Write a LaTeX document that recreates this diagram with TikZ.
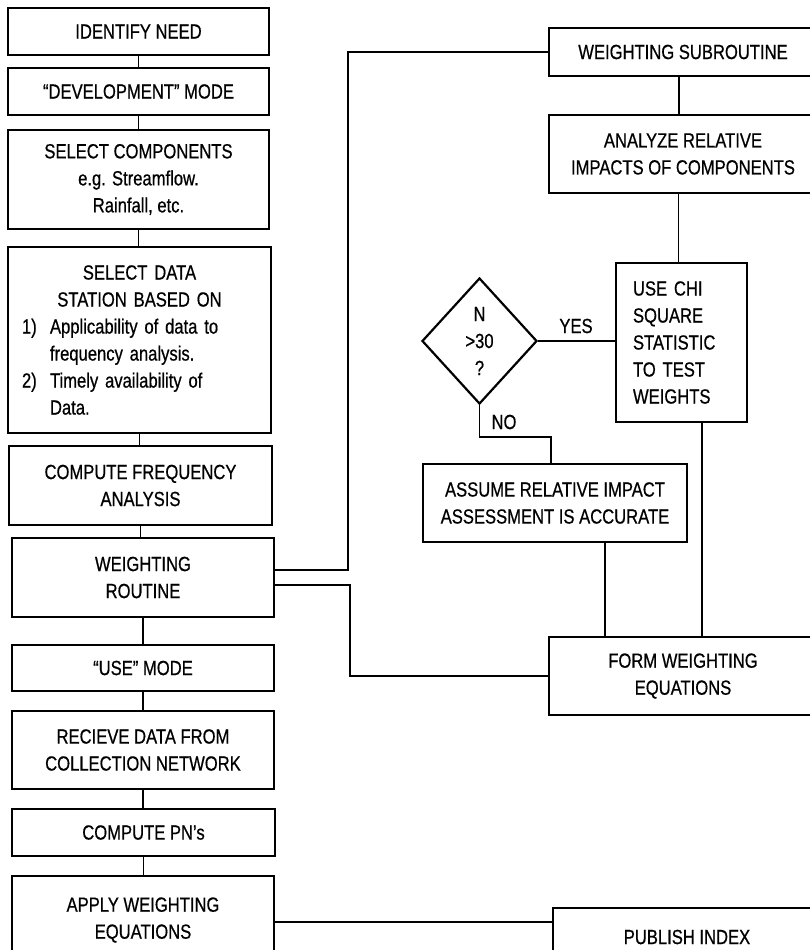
\documentclass[tikz,border=0pt]{standalone}
\usepackage{fontspec}
\setmainfont{Liberation Sans}[FakeStretch=0.81, FakeBold=0.6]
\usetikzlibrary{shapes.geometric}
\tikzset{
  box/.style={draw, line width=2.2pt, inner sep=0pt, align=center,
    font=\fontsize{20.5}{27}\selectfont},
  wire/.style={line width=1.2pt},
  lbl/.style={inner sep=0pt, font=\fontsize{20.5}{27}\selectfont},
}
\begin{document}
\begin{tikzpicture}[x=1pt, y=-1pt]
\clip (0,0) rectangle (810,950);
\fill[white] (0,0) rectangle (810,950);
% left column
\node[box, minimum width=261pt, minimum height=47pt] (need) at (138.5,31.5) {IDENTIFY NEED};
\node[box, minimum width=261pt, minimum height=47pt] (dev) at (138.5,91.5) {“DEVELOPMENT” MODE};
\node[box, minimum width=261pt, minimum height=99pt] (comp) at (138.5,179.5) {SELECT COMPONENTS\\e.g. Streamflow.\\Rainfall, etc.};
\node[box, minimum width=263pt, minimum height=186pt, text width=235pt, align=left] (data) at (139.5,340) {%
{\centering SELECT DATA\\STATION BASED ON\par}%
\noindent\makebox[28pt][l]{1)}Applicability of data to\\
\hspace*{28pt}frequency analysis.\\
\makebox[28pt][l]{2)}Timely availability of\\
\hspace*{28pt}Data.};
\node[box, minimum width=263pt, minimum height=79pt] (freq) at (140.5,485.5) {COMPUTE FREQUENCY\\ANALYSIS};
\node[box, minimum width=262pt, minimum height=79pt] (routine) at (143,577.5) {WEIGHTING\\ROUTINE};
\node[box, minimum width=262pt, minimum height=46pt] (use) at (143,668) {“USE” MODE};
\node[box, minimum width=262pt, minimum height=78pt] (recv) at (143,750) {RECIEVE DATA FROM\\COLLECTION NETWORK};
\node[box, minimum width=263pt, minimum height=47pt] (pns) at (143.5,832.5) {COMPUTE PN’s};
\node[box, minimum width=262pt, minimum height=88pt] (apply) at (143,920) {APPLY WEIGHTING\\EQUATIONS};
% right column
\node[box, minimum width=268pt, minimum height=48pt] (sub) at (683,52) {WEIGHTING SUBROUTINE};
\node[box, minimum width=268pt, minimum height=78pt] (analyze) at (683,154) {ANALYZE RELATIVE\\IMPACTS OF COMPONENTS};
\node[box, minimum width=131pt, minimum height=159pt, text width=97pt, align=left] (chi) at (681.5,342.5) {USE CHI\\SQUARE\\STATISTIC\\TO TEST\\WEIGHTS};
\node[box, diamond, minimum width=115pt, minimum height=126pt] (dia) at (479.5,341) {N\\>30\\?};
\node[box, minimum width=264pt, minimum height=78pt] (assume) at (555,503) {ASSUME RELATIVE IMPACT\\ASSESSMENT IS ACCURATE};
\node[box, minimum width=268pt, minimum height=78pt] (form) at (683,676) {FORM WEIGHTING\\EQUATIONS};
\node[box, minimum width=268pt, minimum height=58pt] (publish) at (687,937) {PUBLISH INDEX};
% labels
\node[lbl] (yes) at (576,326) {YES};
\node[lbl] (no) at (504,422) {NO};
% coordinates
\coordinate (busA) at (348,0);
\coordinate (busB) at (350,0);
\coordinate (nobend) at (551,437);
% left column connectors
\draw[wire] (need.south) -- (need.south |- dev.north);
\draw[wire] (dev.south) -- (dev.south |- comp.north);
\draw[wire] (comp.south) -- (comp.south |- data.north);
\draw[wire] (data.south) -- (data.south |- freq.north);
\draw[wire] (freq.south) -- (freq.south |- routine.north);
\draw[wire] (routine.south) -- (routine.south |- use.north);
\draw[wire] (use.south) -- (use.south |- recv.north);
\draw[wire] (recv.south) -- (recv.south |- pns.north);
\draw[wire] (pns.south) -- (pns.south |- apply.north);
% routine to subroutine / form
\draw[wire] ([yshift=7.5pt]routine.east) -| (busA |- sub.west) -- (sub.west);
\draw[wire] ([yshift=-7.5pt]routine.east) -| (busB |- form.west) -- (form.west);
% right column connectors
\draw[wire] ([xshift=-4pt]sub.south) -- ([xshift=-4pt]analyze.north);
\draw[wire] ([xshift=-3pt]chi.north) -- ([xshift=-3pt]chi.north |- analyze.south);
\draw[wire] (dia.east) -- (dia.east -| chi.west);
\draw[wire] (dia.south) |- (nobend) -- (nobend |- assume.north);
\draw[wire] ([xshift=20.5pt]chi.south) -- ([xshift=20.5pt]chi.south |- form.north);
\draw[wire] ([xshift=50pt]assume.south) -- ([xshift=50pt]assume.south |- form.north);
\draw[wire] ([yshift=-2pt]apply.east) -- ([yshift=-2pt]apply.east -| publish.west);
\end{tikzpicture}
\end{document}
